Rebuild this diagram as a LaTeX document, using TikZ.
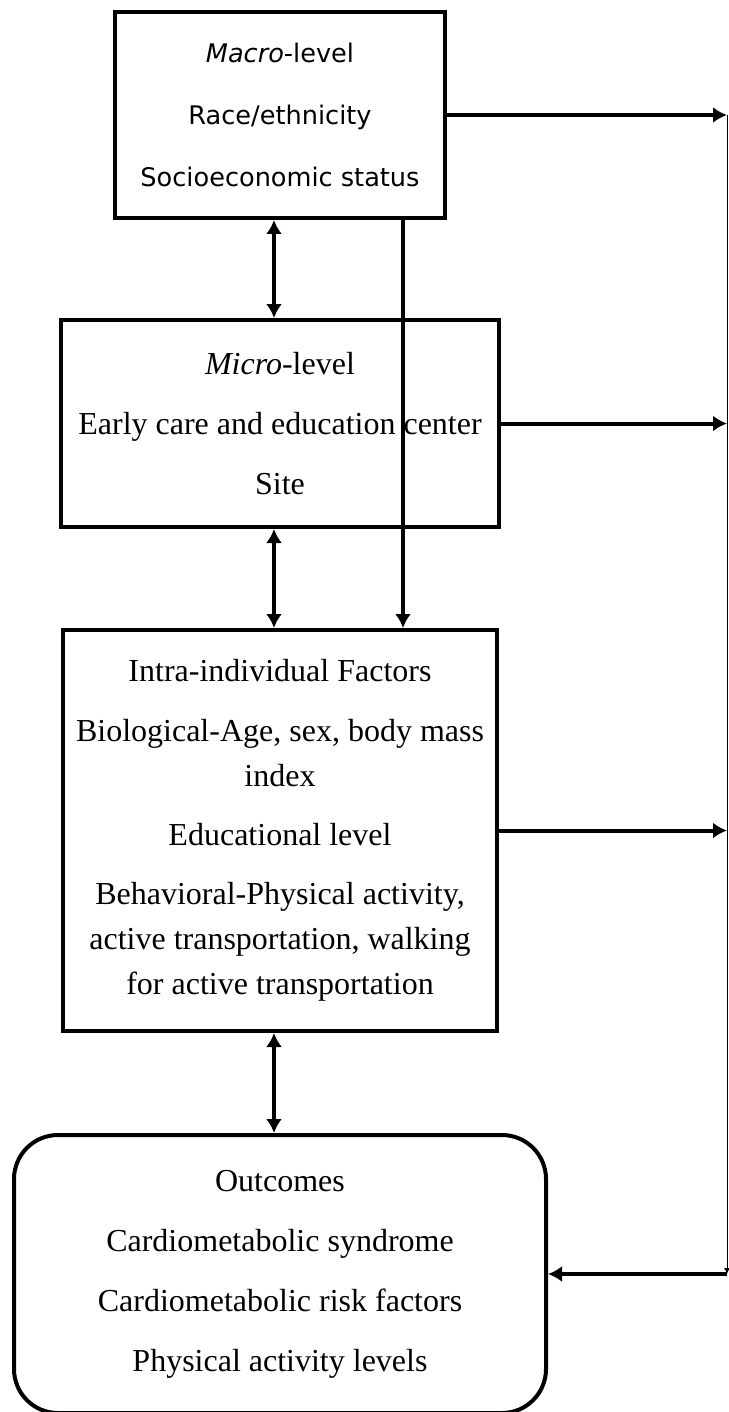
\documentclass[tikz,border=0pt]{standalone}
\usepackage{fontspec}
\setmainfont{Liberation Serif}
\newfontfamily\levelsans{DejaVu Sans}
\usetikzlibrary{arrows.meta, positioning, calc}

\begin{document}
\begin{tikzpicture}[
        block/.style={rectangle, draw, line width=2pt, align=center, inner sep=0pt, font=\fontsize{16}{22.5}\selectfont},
        link/.style={line width=2pt},
        node distance=50pt and 50pt,
        >={Latex[length=7pt,width=8pt]}
    ]

    \useasboundingbox (0,0) rectangle (364pt,-706pt);

    \node[block, minimum width=165pt, minimum height=103pt, font=\levelsans\fontsize{12.8}{31}\selectfont] (macro) at (140pt,-57.5pt) {\textit{Macro}-level\\Race/ethnicity\\Socioeconomic status};
    \node[block, below=49pt of macro, minimum width=219pt, minimum height=103.5pt] (micro) {\textit{Micro}-level\\[7.5pt]Early care and education center\\[7.5pt]Site};
    \node[block, below=49.5pt of micro, minimum width=217pt, minimum height=200.5pt] (intra) {Intra-individual Factors\\[7.5pt]Biological-Age, sex, body mass\\index\\[7pt]Educational level\\[7pt]Behavioral-Physical activity,\\active transportation, walking\\for active transportation};
    \node[block, rounded corners=22pt, below=50pt of intra, minimum width=266pt, minimum height=139pt] (outcomes) {Outcomes\\[7.5pt]Cardiometabolic syndrome\\[7.5pt]Cardiometabolic risk factors\\[7.5pt]Physical activity levels};

    \coordinate (rail) at (363.5pt,0);

    \draw[link, <->] ([xshift=-3pt]macro.south) -- ([xshift=-3pt]micro.north);
    \draw[link, <->] ([xshift=-3pt]micro.south) -- ([xshift=-3pt]intra.north);
    \draw[link, <->] ([xshift=-3pt]intra.south) -- ([xshift=-3pt]outcomes.north);
    \draw[link, ->] ([xshift=-22pt]macro.south east) -- ([xshift=-22pt]macro.south east |- intra.north);

    \draw[link, ->] (macro.east) -- (macro.east -| rail);
    \draw[link, ->] (micro.east) -- (micro.east -| rail);
    \draw[link, ->] (intra.east) -- (intra.east -| rail);
    \draw[line width=0.5pt, -{Latex[length=3pt,width=3pt]}] (macro.east -| rail) -- (outcomes.east -| rail);
    \draw[link, ->] (outcomes.east -| rail) -- (outcomes.east);

\end{tikzpicture}
\end{document}
